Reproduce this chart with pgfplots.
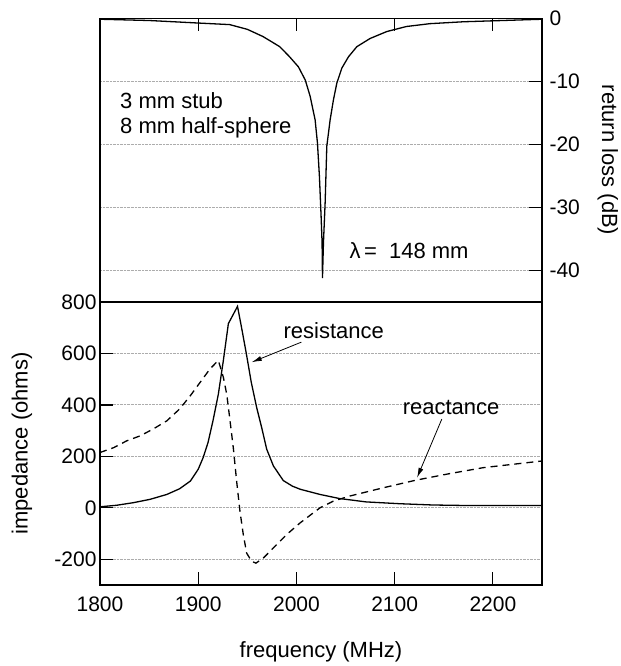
\documentclass[border=0pt]{standalone}
\usepackage{fontspec}
\setmainfont{Liberation Sans}
\usepackage{pgfplots}
\pgfplotsset{compat=1.18}
\usetikzlibrary{arrows.meta}

\pgfplotstableread{
f rl
1800 -0.15
1850 -0.35
1900 -0.75
1932 -1.0
1950 -1.75
1966 -2.9
1983 -4.5
1993 -6.1
2002 -7.7
2009 -9.8
2014 -12.4
2019 -16.1
2021.4 -19.8
2023.4 -25.1
2025.1 -31.4
2026.1 -35.6
2026.5 -41.2
2027.5 -35.6
2029.2 -29.3
2030.9 -20.3
2034.3 -16.1
2037.7 -12.9
2041.1 -10.3
2046.2 -7.9
2053 -6.1
2061.5 -4.5
2075 -3.2
2092 -2.1
2112 -1.3
2136 -0.85
2170 -0.55
2200 -0.4
2250 -0.15
}\rltable

\pgfplotstableread{
f r
1800 4
1817 10
1834 20
1851 33
1868 52
1881 74
1892 104
1900 150
1905 195
1910 254
1915 338
1920.5 442
1925.6 573
1930.7 716
1940 783
1944 703
1949 599
1954 488
1959.5 390
1964.6 312
1969.7 228
1976.5 163
1986.6 106
1996 84
2004 72
2024 52
2044 36
2071 23
2105 16
2139 11
2173 9
2250 9
}\restable

\pgfplotstableread{
f x
1800 215
1814 234
1827 260
1841 280
1854 306
1868 338
1881 384
1892 436
1902 488
1912 540
1920.5 573
1925.6 507
1929 442
1932.4 338
1935.7 234
1939.1 104
1942.5 -13
1945.9 -104
1949.3 -176
1954.4 -208
1958.8 -215
1966.3 -195
1976.5 -156
1990 -104
2003.6 -59
2017 -20
2024 0
2037.5 26
2054.5 46
2088.5 78
2121 107
2156 133
2190 156
2250 182
}\reacttable

\pgfplotsset{
  panel/.style={
    scale only axis, width=442bp,
    xmin=1800, xmax=2250,
    axis line style={line width=1.6bp},
    tick align=inside,
    major tick length=13bp,
    every tick/.style={black, line width=1.2bp},
    ymajorgrids,
    grid style={densely dotted, gray!65, line width=0.9bp},
    tick label style={font=\fontsize{21bp}{24bp}\selectfont},
    label style={font=\fontsize{22bp}{25bp}\selectfont},
  }
}

\begin{document}
\begin{tikzpicture}[font=\fontsize{22bp}{26bp}\selectfont]
\path[use as bounding box] (0,0) rectangle (621bp,-666bp);

\begin{axis}[panel, at={(100bp,-18.3bp)}, anchor=north west, height=283.7bp,
  ymin=-45, ymax=0,
  xtick={1900,2000,2100,2200}, xticklabels={}, xtick pos=right,
  ytick={-40,-30,-20,-10,0}, yticklabels={-40,-30,-20,-10,0},
  ytick pos=right, yticklabel pos=right,
  yticklabel style={xshift=4bp},
  ylabel={return loss (dB)},
  every axis y label/.style={at={(axis description cs:1.149,0.5)}, rotate=-90, anchor=center},
]
\addplot[black, line width=1.3bp] table[x=f, y=rl] {\rltable};
\node[anchor=base west] at (axis cs:1817,-14.23) {3 mm stub};
\node[anchor=base west] at (axis cs:1817,-18.2) {8 mm half-sphere};
\node[anchor=base west] at (axis cs:2050.5,-38.1) {λ\,=\hspace{12bp}148 mm};
\end{axis}

\begin{axis}[panel, at={(100bp,-302bp)}, anchor=north west, height=283bp,
  ymin=-300, ymax=800,
  xtick={1800,1900,2000,2100,2200}, xticklabels={1800,1900,2000,2100,2200}, xtick pos=left,
  ytick={-200,0,200,400,600,800}, yticklabels={-200,0,200,400,600,800}, ytick pos=left,
  xticklabel style={yshift=-8bp},
  xlabel={frequency (MHz)}, ylabel={impedance (ohms)},
  every axis x label/.style={at={(axis description cs:0.5,-0.237)}, anchor=center},
  every axis y label/.style={at={(axis description cs:-0.1765,0.5)}, rotate=90, anchor=center},
]
\addplot[black, line width=1.3bp] table[x=f, y=r] {\restable};
\addplot[black, line width=1.3bp, dash pattern=on 7bp off 5bp] table[x=f, y=x] {\reacttable};
\node[anchor=base west] at (axis cs:1983.3,659) {resistance};
\node[anchor=base west] at (axis cs:2104.7,361) {reactance};
\draw[line width=0.8bp, -{Latex[length=10bp,width=5bp]}] (axis cs:2005,644) -- (axis cs:1954.5,566);
\draw[line width=0.8bp, -{Latex[length=10bp,width=5bp]}] (axis cs:2148,345) -- (axis cs:2122.8,117);
\end{axis}
\end{tikzpicture}
\end{document}
